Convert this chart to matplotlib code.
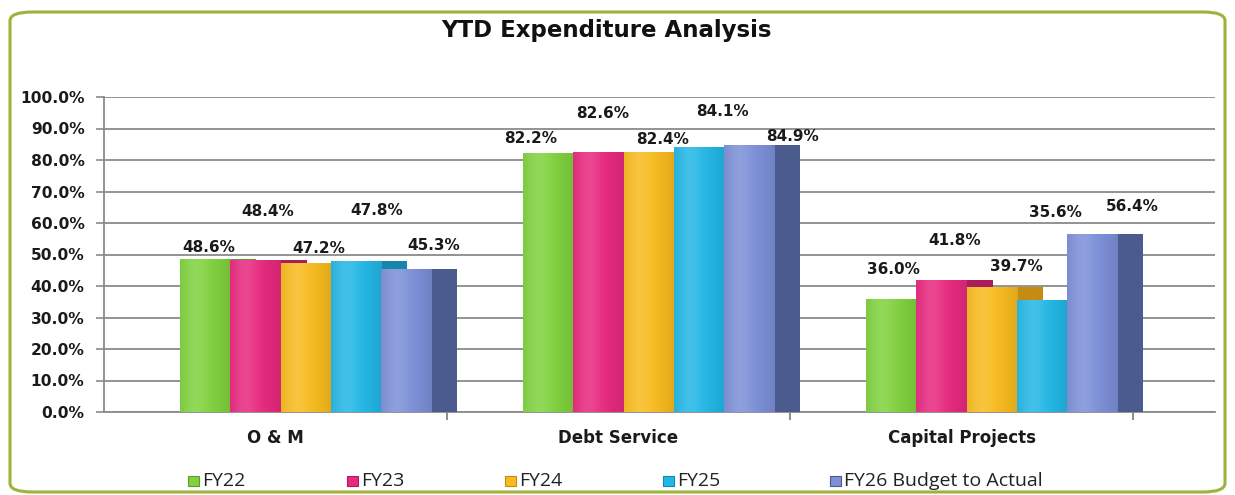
# YTD Expenditure Analysis - clustered bars with fake 3D side faces

import numpy as np
import matplotlib.pyplot as plt
import matplotlib.colors as mcolors
from matplotlib.patches import FancyBboxPatch, Rectangle

# Data
categories = ["O & M", "Debt Service", "Capital Projects"]
series_names = ["FY22", "FY23", "FY24", "FY25", "FY26 Budget to Actual"]
fy22 = [48.6, 82.2, 36.0]
fy23 = [48.4, 82.6, 41.8]
fy24 = [47.2, 82.4, 39.7]
fy25 = [47.8, 84.1, 35.6]
fy26 = [45.3, 84.9, 56.4]
all_values = [fy22, fy23, fy24, fy25, fy26]
y_ticks = np.arange(0, 101, 10)

# Style
colors = ["#80d23e", "#e8297f", "#f8bb1e", "#23b7e6", "#7d90d8"]
side_colors = ["#5c9c2c", "#a91d5d", "#c68c12", "#1786ae", "#4c5b8d"]

# hand-placed data label offsets (pixels from the bar top), per series
label_dx = [[-10, -31, -11], [-1, -9, 0], [0, 1, 12], [8, 10, 0], [14, 30, 27]]
label_dy = [[11, 15, 29], [48, 38, 40], [15, 13, 20], [51, 36, 87], [24, 8, 28]]

W, H = 1235, 495
fig = plt.figure(figsize=(W / 100, H / 100), dpi=100)

# outer rounded frame
frame = FancyBboxPatch((10 / W, 3 / H), 1215 / W, 480 / H,
                       boxstyle="round,pad=0,rounding_size=0.018",
                       transform=fig.transFigure, facecolor="none",
                       edgecolor="#9fb33a", linewidth=2.2, zorder=0)
fig.patches.append(frame)

ax = fig.add_axes([104 / W, 1 - 412 / H, 1111 / W, 315 / H])
ax.set_facecolor("none")

bar_w = 0.1465
side_w = 0.076
first = -0.5 + 0.222
x = np.arange(len(categories))


def shaded(color, n=64):
    base = np.array(mcolors.to_rgb(color))
    t = np.linspace(0, 1, n)
    light = 0.14 * np.exp(-((t - 0.3) / 0.25) ** 2)
    dark = 0.10 * (np.abs(t - 0.4) / 0.6) ** 2
    rgb = base[None, :] * (1 - dark[:, None]) + (1 - base[None, :]) * light[:, None]
    return np.clip(rgb, 0, 1)[None, :, :]


for j, vals in enumerate(all_values):
    xs = x + first + j * bar_w
    sides = ax.bar(xs + bar_w, vals, width=side_w, align="edge",
                   color=side_colors[j], zorder=2 + 2 * j, linewidth=0)
    fronts = ax.bar(xs, vals, width=bar_w, align="edge",
                    color=colors[j], zorder=3 + 2 * j, linewidth=0)
    for rect in fronts:
        im = ax.imshow(shaded(colors[j]), aspect="auto",
                       extent=[rect.get_x(), rect.get_x() + rect.get_width(),
                               0, rect.get_height()],
                       zorder=3 + 2 * j + 0.5)
        im.set_clip_path(rect)
    for i, v in enumerate(vals):
        cx = xs[i] + (bar_w + side_w) / 2
        ax.annotate(f"{v:.1f}%", xy=(cx, v),
                    xytext=(label_dx[j][i] * 0.72, label_dy[j][i] * 0.72),
                    textcoords="offset points", ha="center", va="center",
                    fontsize=11, fontweight="bold", color="#1a1a1a", zorder=20)

ax.set_xlim(-0.5, -0.5 + 1111 / 343)
ax.set_ylim(0, 100)

ax.set_yticks(y_ticks)
ax.set_yticklabels([f"{v:.1f}%" for v in y_ticks], fontsize=11.2,
                   fontweight="bold", color="#1a1a1a")
ax.yaxis.grid(True, color="#8a8a8a", linewidth=1.3)
ax.set_axisbelow(True)

ax.set_xticks(x)
ax.set_xticklabels(categories, fontsize=12, fontweight="bold", color="#1a1a1a")
ax.set_xticks([0.5, 1.5, 2.5], minor=True)
ax.tick_params(axis="x", which="major", length=0, pad=12)
ax.tick_params(axis="x", which="minor", length=6, color="#7a7a7a", width=1.2)
ax.tick_params(axis="y", length=6, color="#8a8a8a", width=1.2, pad=8)

for s in ["top", "right"]:
    ax.spines[s].set_visible(False)
ax.spines["left"].set_color("#8a8a8a")
ax.spines["bottom"].set_color("#8a8a8a")
ax.spines["left"].set_linewidth(1.3)
ax.spines["bottom"].set_linewidth(1.3)

fig.text(606 / W, 1 - 31 / H, "YTD Expenditure Analysis", ha="center", va="center",
         fontsize=16.5, fontweight="bold", color="#111111")

# legend drawn by hand so entries get equal spacing
legend_x = [188, 347, 505, 663, 830]
for j, name in enumerate(series_names):
    fig.patches.append(Rectangle((legend_x[j] / W, 1 - 486 / H), 11 / W, 10 / H,
                                 transform=fig.transFigure, facecolor=colors[j],
                                 edgecolor=side_colors[j], linewidth=0.8))
    fig.text((legend_x[j] + 14) / W, 1 - 481 / H, name, ha="left", va="center",
             fontsize=14, family="Open Sans", color="#222222")

fig.savefig("out.png", dpi=100)
